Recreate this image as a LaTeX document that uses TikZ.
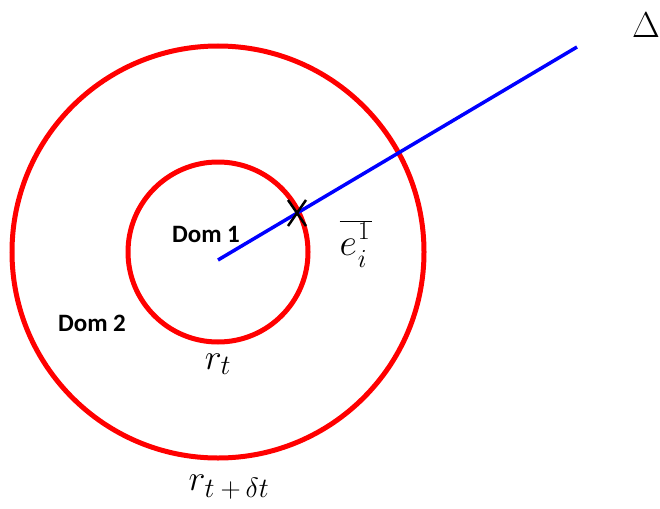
\RequirePackage{fix-cm}
\documentclass[tikz,border=0pt]{standalone}
\usepackage{fontspec}
\usetikzlibrary{calc}
\newfontfamily\domfont{Carlito}
\DeclareMathSizes{36}{36}{28}{20}
\begin{document}
\begin{tikzpicture}[x=1pt,y=-1pt,
  ring/.style={red,line width=5pt},
  domlabel/.style={font=\domfont\bfseries\fontsize{25}{28}\selectfont},
  mathlabel/.style={font=\fontsize{36}{40}\selectfont,inner sep=0pt}]
\useasboundingbox (0,0) rectangle (660,508);
\coordinate (O) at (218,252);
\draw[ring] (O) circle[radius=206];
\draw[ring] (O) circle[radius=90];
\coordinate (start) at (218,260);
\coordinate (tip) at (577,47);
\draw[blue,line width=3.5pt] (start) -- (tip);
\coordinate (X) at (297,213);
\draw[line width=2.5pt] ($(X)+(-9,-13)$) -- ($(X)+(9,13)$) ($(X)+(-9,13)$) -- ($(X)+(9,-13)$);
\node[domlabel] (dom1) at (206,234) {Dom 1};
\node[domlabel] (dom2) at (92,323) {Dom 2};
\node[mathlabel] (rt) at (218,364) {$r_t$};
\node[mathlabel] (rdt) at (229,487) {$r_{t\kern6pt+\kern5pt\delta t}$};
\node[mathlabel,font=\fontsize{38}{42}\selectfont] (ei) at (356,244) {$\overline{e\kern1pt\rlap{\raisebox{16pt}{\fontsize{26}{28}\selectfont$1$}}\raisebox{-12pt}{\fontsize{26}{28}\selectfont$i$}\kern6pt}$};
\node[mathlabel] (delta) at (646,25) {$\Delta$};
\end{tikzpicture}
\end{document}
